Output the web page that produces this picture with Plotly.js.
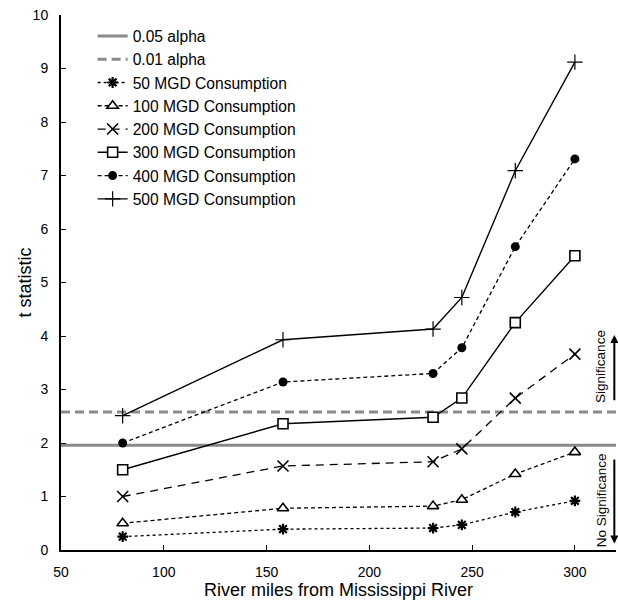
<!DOCTYPE html>
<html>
<head>
<meta charset="utf-8">
<script src="https://cdn.plot.ly/plotly-3.0.1.min.js"></script>
<style>html,body{margin:0;padding:0;background:#fff}#chart{width:618px;height:600px}</style>
</head>
<body>
<div id="chart"></div>
<script>
// River miles of the observation points
const riverMiles = [80, 158, 231, 245, 271, 300];
// t statistic for each consumption scenario
const mgd50  = [0.25, 0.39, 0.41, 0.47, 0.71, 0.92];
const mgd100 = [0.50, 0.78, 0.82, 0.94, 1.42, 1.83];
const mgd200 = [1.00, 1.57, 1.65, 1.89, 2.84, 3.66];
const mgd300 = [1.50, 2.36, 2.48, 2.84, 4.25, 5.50];
const mgd400 = [2.00, 3.14, 3.30, 3.78, 5.67, 7.31];
const mgd500 = [2.51, 3.93, 4.13, 4.72, 7.09, 9.12];
// critical values
const alphaX = [50, 320];
const alpha05 = [1.96, 1.96];
const alpha01 = [2.58, 2.58];
const xTicks = [50, 100, 150, 200, 250, 300];
const yTicks = [0,1,2,3,4,5,6,7,8,9,10];

const gray = '#8a8a8a';
const traces = [
  {x: alphaX, y: alpha05, name: '0.05 alpha', mode: 'lines', line: {color: gray, width: 3}},
  {x: alphaX, y: alpha01, name: '0.01 alpha', mode: 'lines', line: {color: gray, width: 3, dash: '9px,5px'}},
  {x: riverMiles, y: mgd50, name: '50 MGD Consumption', mode: 'lines+markers',
    line: {color: '#000', width: 1.3, dash: 'dot'},
    marker: {symbol: 'asterisk', size: 9, line: {color: '#000', width: 2.2}}},
  {x: riverMiles, y: mgd100, name: '100 MGD Consumption', mode: 'lines+markers',
    line: {color: '#000', width: 1.3, dash: '4px,3px'},
    marker: {symbol: 'triangle-up', size: 10, color: '#fff', line: {color: '#000', width: 1.6}}},
  {x: riverMiles, y: mgd200, name: '200 MGD Consumption', mode: 'lines+markers',
    line: {color: '#000', width: 1.3, dash: '8px,6px'},
    marker: {symbol: 'x-thin', size: 11, line: {color: '#000', width: 1.6}}},
  {x: riverMiles, y: mgd300, name: '300 MGD Consumption', mode: 'lines+markers',
    line: {color: '#000', width: 1.4},
    marker: {symbol: 'square', size: 10, color: '#fff', line: {color: '#000', width: 1.6}}},
  {x: riverMiles, y: mgd400, name: '400 MGD Consumption', mode: 'lines+markers',
    line: {color: '#000', width: 1.3, dash: '4px,3px'},
    marker: {symbol: 'circle', size: 9, color: '#000'}},
  {x: riverMiles, y: mgd500, name: '500 MGD Consumption', mode: 'lines+markers',
    line: {color: '#000', width: 1.4},
    marker: {symbol: 'cross-thin', size: 11, line: {color: '#000', width: 1.2}}}
];

const font = {family: 'Liberation Sans, Arial, sans-serif', color: '#000'};
const layout = {
  width: 618, height: 600,
  margin: {l: 61, r: 2, t: 15, b: 50},
  paper_bgcolor: '#fff', plot_bgcolor: '#fff',
  font: font,
  showlegend: true,
  legend: {x: 0.057, y: 0.992, xanchor: 'left', yanchor: 'top', bgcolor: 'rgba(0,0,0,0)',
    font: {family: font.family, size: 15.6, color: '#000'}},
  xaxis: {range: [50, 320], tickvals: xTicks, ticks: 'inside', ticklen: 5, tickcolor: '#000',
    showline: true, linecolor: '#000', linewidth: 2, showgrid: false, zeroline: false,
    tickfont: {family: font.family, size: 14}, ticklabelstandoff: 8,
    title: {text: 'River miles from Mississippi River', font: {family: font.family, size: 18}, standoff: 8}},
  yaxis: {range: [0, 10], tickvals: yTicks, ticks: 'inside', ticklen: 5, tickcolor: '#000',
    showline: true, linecolor: '#000', linewidth: 2, showgrid: false, zeroline: false,
    tickfont: {family: font.family, size: 14}, ticklabelstandoff: 8},
  annotations: [
    {xref: 'paper', yref: 'paper', x: -0.065, y: 0.5, xanchor: 'center', yanchor: 'middle',
      text: 't statistic', textangle: -90,
      showarrow: false, font: {family: font.family, size: 18, color: '#000'}},
    {xref: 'paper', yref: 'y', x: 0.99, y: 3.44, text: 'Significance', textangle: -90,
      showarrow: false, font: {family: font.family, size: 13.5, color: '#000'}},
    {xref: 'paper', yref: 'y', x: 0.99, y: 0.93, text: 'No Significance', textangle: -90,
      showarrow: false, font: {family: font.family, size: 13.5, color: '#000'}},
    {xref: 'paper', yref: 'y', x: 0.997, y: 4.02, ax: 0, ay: 2.77, axref: 'pixel', ayref: 'y',
      text: '', showarrow: true, arrowhead: 2, arrowsize: 0.8, arrowwidth: 2, arrowcolor: '#000', standoff: 0},
    {xref: 'paper', yref: 'y', x: 0.997, y: 0.12, ax: 0, ay: 1.72, axref: 'pixel', ayref: 'y',
      text: '', showarrow: true, arrowhead: 2, arrowsize: 0.8, arrowwidth: 2, arrowcolor: '#000', standoff: 0}
  ]
};
Plotly.newPlot('chart', traces, layout, {displayModeBar: false, staticPlot: true});
</script>
</body>
</html>
